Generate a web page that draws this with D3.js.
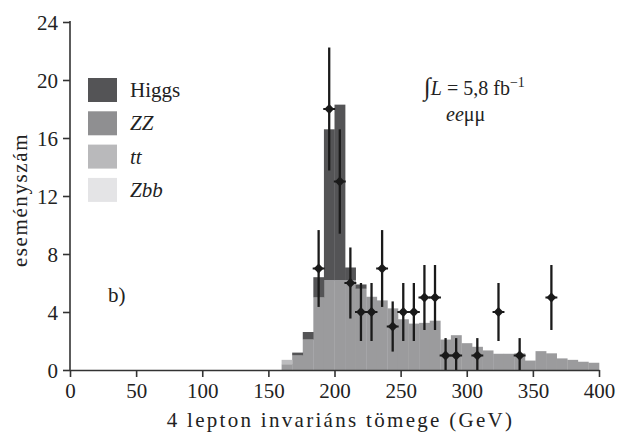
<!DOCTYPE html>
<html>
<head>
<meta charset="utf-8">
<script src="https://cdn.jsdelivr.net/npm/d3@7"></script>
<style>
  body { margin: 0; background: #fff; }
  svg text { font-family: "Liberation Serif", "DejaVu Serif", serif; fill: #222; }
</style>
</head>
<body>
<div id="container"></div>
<script>
// histogram bins (lower edges, GeV), 8 GeV wide
const binLow = [160, 168, 176, 184, 192, 200, 208, 216, 224, 232, 240, 248, 256, 264, 272,
  280, 288, 296, 304, 312, 320, 328, 336, 344, 352, 360, 368, 376, 384, 392];
const binWidth = 8;

// stacked expectations per bin
const zz = [0.4, 1.0, 2.1, 5.0, 6.2, 6.2, 6.2, 5.6, 5.05, 4.8, 4.25, 3.5, 3.2, 3.25, 3.4,
  2.1, 2.4, 1.85, 1.6, 1.35, 1.12, 1.12, 1.15, 0.65, 1.3, 1.15, 0.8, 0.7, 0.57, 0.5];
const tt = [0.3, 0, 0, 0, 0, 0, 0, 0, 0, 0, 0, 0, 0, 0, 0,
  0, 0, 0, 0, 0, 0, 0, 0, 0, 0, 0, 0, 0, 0, 0];
const zbb = [0, 0, 0, 0, 0, 0, 0, 0, 0, 0, 0, 0, 0, 0, 0,
  0, 0, 0, 0, 0, 0, 0, 0, 0, 0, 0, 0, 0, 0, 0];
const higgs = [0, 0.2, 0.52, 1.4, 10.4, 12.1, 0.87, 0.3, 0, 0, 0, 0, 0, 0, 0,
  0, 0, 0, 0, 0, 0, 0, 0, 0, 0, 0, 0, 0, 0, 0];

// measured events
const dataMass = [188, 196, 204, 212, 220, 228, 236, 244, 252, 260, 268, 276, 284, 292, 308, 324, 340, 364];
const dataCount = [7, 18, 13, 6, 4, 4, 7, 3, 4, 4, 5, 5, 1, 1, 1, 4, 1, 5];
const dataErr = [2.65, 4.24, 3.6, 2.45, 2.0, 2.0, 2.65, 1.73, 2.0, 2.0, 2.24, 2.24, 1.2, 1.2, 1.2, 2.0, 1.2, 2.24];

const xTicks = [0, 50, 100, 150, 200, 250, 300, 350, 400];
const yTicks = [0, 4, 8, 12, 16, 20, 24];

const legendNames = ["Higgs", "ZZ", "tt", "Zbb"];
const colors = { Higgs: "#545456", ZZ: "#9b9b9d", tt: "#bcbcbe", Zbb: "#e4e4e6" };
const legendColors = { Higgs: "#545456", ZZ: "#8f8f91", tt: "#b9b9bb", Zbb: "#e4e4e6" };

const width = 626, height = 432;
const margin = { top: 22, right: 27, bottom: 62, left: 70 };

const svg = d3.select("#container")
  .append("svg")
  .attr("width", width)
  .attr("height", height);

const x = d3.scaleLinear().domain([0, 400]).range([margin.left, width - margin.right]);
const y = d3.scaleLinear().domain([0, 24]).range([height - margin.bottom, margin.top]);

// stacked histogram
const rows = binLow.map((b, i) => ({ low: b, ZZ: zz[i], tt: tt[i], Zbb: zbb[i], Higgs: higgs[i] }));
const stack = d3.stack().keys(["ZZ", "tt", "Zbb", "Higgs"]);
const layers = stack(rows);

svg.append("g")
  .selectAll("g")
  .data(layers)
  .join("g")
  .attr("fill", d => colors[d.key])
  .selectAll("rect")
  .data(d => d)
  .join("rect")
  .attr("x", d => x(d.data.low))
  .attr("width", d => x(d.data.low + binWidth) - x(d.data.low) + 0.3)
  .attr("y", d => y(d[1]))
  .attr("height", d => Math.max(0, y(d[0]) - y(d[1])));

// axes
const xAxis = svg.append("g")
  .attr("transform", `translate(0, ${y(0)})`)
  .call(d3.axisBottom(x).tickValues(xTicks).tickSize(7).tickSizeOuter(0).tickPadding(6));
const yAxis = svg.append("g")
  .attr("transform", `translate(${x(0)}, 0)`)
  .call(d3.axisLeft(y).tickValues(yTicks).tickSize(7).tickSizeOuter(0).tickPadding(5));

[xAxis, yAxis].forEach(a => {
  a.select(".domain").attr("stroke", "#333").attr("stroke-width", 1.6);
  a.selectAll(".tick line").attr("stroke", "#333").attr("stroke-width", 1.6);
  a.selectAll(".tick text").style("font-size", "21px").attr("fill", "#222");
});
yAxis.select(".domain").attr("d", `M0,${y(0)}V${y(24) - 1}`);
yAxis.selectAll(".tick text").attr("dy", "0.34em");

// data points with error bars
const pts = svg.append("g");
dataMass.forEach((m, i) => {
  const c = dataCount[i], e = dataErr[i];
  pts.append("line")
    .attr("x1", x(m)).attr("x2", x(m))
    .attr("y1", y(c + e)).attr("y2", y(Math.max(0, c - e)))
    .attr("stroke", "#1a1a1a").attr("stroke-width", 2.3);
  pts.append("line")
    .attr("x1", x(m - 4.5)).attr("x2", x(m + 4.5))
    .attr("y1", y(c)).attr("y2", y(c))
    .attr("stroke", "#1a1a1a").attr("stroke-width", 2);
  pts.append("path")
    .attr("d", d3.symbol(d3.symbolSquare, 48)())
    .attr("transform", `translate(${x(m)}, ${y(c)}) rotate(45)`)
    .attr("fill", "#1a1a1a");
});

// legend
const legend = svg.append("g");
legendNames.forEach((n, i) => {
  legend.append("rect")
    .attr("x", 88).attr("y", 78 + i * 33.3)
    .attr("width", 29).attr("height", 24)
    .attr("fill", legendColors[n]);
  legend.append("text")
    .attr("x", 130).attr("y", 97 + i * 33.3)
    .style("font-size", "21px")
    .style("font-style", n === "Higgs" ? "normal" : "italic")
    .text(n);
});

// annotations
const ann = svg.append("g").style("font-size", "20px");
const lum = ann.append("text").attr("x", 424).attr("y", 95);
lum.append("tspan").style("font-size", "25px").text("\u222B");
lum.append("tspan").style("font-style", "italic").text("L");
lum.append("tspan").text(" = 5,8 fb");
lum.append("tspan").attr("dy", -8).style("font-size", "14px").text("\u22121");
const ch = ann.append("text").attr("x", 446).attr("y", 121);
ch.append("tspan").style("font-style", "italic").text("ee");
ch.append("tspan").text("\u03BC\u03BC");

svg.append("text").attr("x", 108).attr("y", 302).style("font-size", "21px").text("b)");

// axis titles
svg.append("text")
  .attr("transform", `translate(${x(200) + 6}, 427)`)
  .attr("text-anchor", "middle")
  .style("font-size", "21px")
  .style("letter-spacing", "2.3px")
  .text("4 lepton invariáns tömege (GeV)");
svg.append("text")
  .attr("transform", `translate(27, ${y(12) + 4}) rotate(-90)`)
  .attr("text-anchor", "middle")
  .style("font-size", "21px")
  .style("letter-spacing", "1.6px")
  .text("eseményszám");
</script>
</body>
</html>
